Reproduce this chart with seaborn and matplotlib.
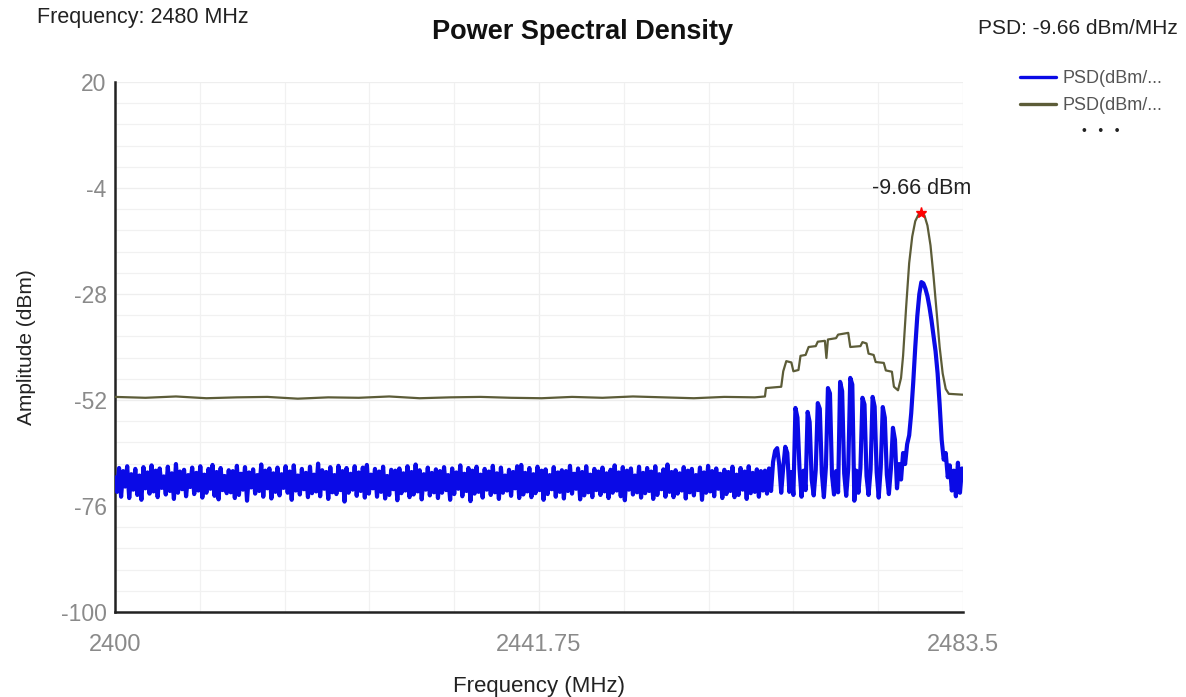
import numpy as np
import pandas as pd
import matplotlib
matplotlib.use("Agg")
import matplotlib.pyplot as plt
import seaborn as sns

# ---------------- data ----------------
blue_start_mhz = 2400.0
blue_step_mhz = 0.2
blue_db = [
    -69.5,-72.8,-67.4,-73.9,-68.1,-71.6,-67.0,-74.2,-68.8,-72.3,-67.6,-73.5,-69.1,-74.6,-67.2,-72.0,-68.4,-73.2,-66.8,-72.7,
    -68.0,-74.0,-67.5,-71.9,-69.3,-73.4,-67.1,-72.6,-68.6,-74.4,-66.5,-73.0,-68.2,-72.2,-67.8,-73.8,-69.0,-71.7,-67.3,-73.3,
    -68.5,-72.5,-67.0,-74.1,-68.9,-73.0,-67.6,-72.1,-66.7,-73.7,-68.3,-74.5,-67.4,-72.4,-69.2,-73.1,-67.9,-72.9,-68.1,-74.2,
    -66.9,-73.5,-68.7,-72.3,-67.2,-74.8,-68.4,-71.8,-67.7,-73.2,-69.0,-72.6,-66.6,-73.9,-68.0,-72.0,-67.5,-74.3,-68.6,-72.8,
    -67.3,-73.6,-68.8,-71.9,-67.0,-73.0,-68.2,-74.6,-66.8,-72.5,-69.1,-73.4,-67.6,-72.2,-68.5,-74.0,-67.1,-73.1,-68.9,-72.7,
    -66.4,-73.8,-67.9,-72.1,-68.3,-74.4,-67.2,-72.9,-69.0,-73.3,-66.9,-72.4,-68.1,-75.0,-67.4,-73.0,-68.7,-72.3,-67.0,-73.7,
    -68.4,-72.6,-67.3,-74.1,-66.7,-73.2,-68.9,-72.0,-67.6,-73.9,-68.2,-72.8,-67.1,-74.3,-69.2,-73.5,-67.8,-72.2,-68.0,-74.7,
    -67.5,-73.1,-68.6,-72.5,-67.0,-74.0,-68.3,-73.4,-66.6,-72.7,-67.9,-74.5,-68.8,-72.3,-67.3,-73.6,-68.5,-72.9,-67.7,-74.2,
    -68.1,-73.0,-67.2,-72.4,-69.0,-74.6,-67.5,-73.3,-68.4,-72.1,-66.8,-73.8,-68.7,-72.6,-67.4,-74.9,-68.0,-73.2,-67.1,-72.8,
    -68.9,-74.1,-67.6,-72.3,-68.2,-73.5,-66.9,-72.9,-68.6,-74.4,-67.3,-73.0,-69.1,-72.5,-67.8,-73.7,-68.3,-72.0,-67.0,-74.2,
    -66.7,-73.4,-68.5,-72.7,-67.4,-74.0,-68.8,-73.1,-67.1,-72.4,-68.0,-74.6,-67.7,-73.3,-69.0,-72.2,-67.2,-73.9,-68.4,-72.8,
    -67.9,-74.3,-68.1,-72.6,-66.9,-73.2,-68.7,-72.1,-67.5,-74.5,-68.3,-73.6,-67.0,-72.9,-68.9,-74.0,-67.6,-72.4,-68.2,-73.5,
    -67.3,-72.7,-68.6,-74.2,-67.8,-73.0,-66.8,-72.5,-68.4,-73.8,-67.2,-74.7,-68.0,-72.3,-67.5,-73.4,-69.1,-72.9,-67.1,-74.1,
    -68.5,-73.1,-67.4,-72.6,-68.2,-74.4,-67.0,-73.5,-68.8,-72.2,-67.7,-73.9,-66.6,-72.8,-68.3,-74.0,-67.9,-73.2,-68.6,-72.5,
    -67.2,-74.3,-68.0,-72.9,-67.6,-73.6,-69.0,-72.4,-67.3,-74.6,-68.4,-73.0,-66.9,-72.7,-68.1,-73.8,-67.5,-72.1,-68.7,-74.2,
    -67.8,-73.3,-68.3,-72.6,-67.1,-74.0,-68.9,-73.5,-67.4,-72.3,-68.2,-74.4,-67.0,-73.1,-68.5,-72.8,-67.7,-73.9,-68.1,-72.5,
    # 2464 MHz onward: burst of spikes and main carrier
    -68.0,-73.2,-67.5,-72.6,-66.0,-63.5,-62.9,-66.5,-73.0,-67.2,
    -62.6,-64.0,-72.8,-68.3,-73.5,-53.8,-56.0,-67.5,-73.9,-68.0,
    -72.4,-54.7,-57.0,-70.0,-73.6,-67.8,-52.7,-54.0,-68.5,-74.0,
    -67.2,-49.3,-50.5,-69.0,-73.4,-68.1,-72.9,-47.9,-50.0,-68.6,
    -73.7,-67.5,-47.0,-48.5,-74.8,-68.0,-73.0,-67.4,-51.5,-53.0,
    -69.2,-73.5,-67.8,-51.3,-53.5,-68.4,-74.1,-67.3,-53.6,-56.0,
    -68.9,-73.3,-67.6,-58.3,-61.0,-72.0,-66.5,-70.0,-64.0,-66.5,
    -62.0,-60.0,-55.0,-48.0,-40.0,-33.0,-28.0,-25.3,-25.6,-26.8,
    -28.5,-31.0,-34.0,-37.5,-41.0,-46.0,-53.0,-61.0,-65.5,-64.0,
    -69.5,-66.8,-72.5,-68.0,-73.8,-66.2,-73.0,-67.5,
]

olive_mhz = [2400, 2403, 2406, 2409, 2412, 2415, 2418, 2421, 2424, 2427, 2430, 2433,
             2436, 2439, 2442, 2445, 2448, 2451, 2454, 2457, 2460, 2463,
             2464.0, 2464.1, 2465.6, 2465.8, 2466.1, 2466.6, 2466.8, 2467.3, 2467.5,
             2468.0, 2468.3, 2469.0, 2469.2, 2469.9, 2470.05, 2470.2, 2471.0, 2471.2,
             2472.2, 2472.4, 2473.4, 2473.6, 2474.0, 2474.2, 2474.7, 2474.9, 2475.7,
             2475.9, 2476.5, 2476.7, 2477.1, 2477.4, 2477.6, 2477.9, 2478.2, 2478.5,
             2478.8, 2479.1, 2479.4, 2479.7, 2480.0, 2480.3, 2480.6, 2480.9, 2481.2,
             2481.5, 2481.8, 2482.1, 2482.8, 2483.5]
olive_db = [-51.3, -51.5, -51.2, -51.6, -51.4, -51.3, -51.7, -51.4, -51.5, -51.2, -51.6, -51.4,
            -51.3, -51.5, -51.6, -51.3, -51.5, -51.2, -51.4, -51.6, -51.3, -51.4,
            -51.2, -49.3, -49.0, -45.5, -43.2, -43.5, -45.5, -45.2, -42.0,
            -41.8, -40.0, -39.8, -38.8, -38.6, -42.5, -38.3, -38.0, -37.2,
            -36.8, -40.0, -39.8, -38.9, -39.2, -41.5, -41.8, -43.4, -43.6,
            -45.3, -45.6, -49.0, -49.8, -47.0, -42.0, -31.0, -21.0, -15.0,
            -11.5, -10.1, -9.66, -10.2, -12.5, -17.0, -24.0, -32.0, -40.0,
            -46.0, -49.5, -50.6, -50.7, -50.8]

peak_mhz = 2479.4
peak_db = -9.66
y_ticks = [20, -4, -28, -52, -76, -100]
x_ticks = [2400, 2441.75, 2483.5]
x_tick_labels = ["2400", "2441.75", "2483.5"]
legend_labels = ["PSD(dBm/...", "PSD(dBm/..."]

# ---------------- plotting ----------------
sns.set_style("white")
plt.rcParams['font.family'] = ['Liberation Sans', 'DejaVu Sans']
plt.rcParams['axes.unicode_minus'] = False

blue_df = pd.DataFrame({
    "freq": blue_start_mhz + blue_step_mhz * np.arange(len(blue_db)),
    "db": blue_db,
})
olive_df = pd.DataFrame({"freq": olive_mhz, "db": olive_db})

fig = plt.figure(figsize=(11.86, 6.97), dpi=100)
ax = fig.add_axes([115/1186, 1 - 612/697, (963-115)/1186, (612-82)/697])

BLUE = "#0a0ae6"
OLIVE = "#5c5c38"

sns.lineplot(data=olive_df, x="freq", y="db", ax=ax, color=OLIVE, lw=1.6,
             estimator=None, sort=False, zorder=3)
sns.lineplot(data=blue_df, x="freq", y="db", ax=ax, color=BLUE, lw=3.0,
             estimator=None, sort=False, zorder=4)

ax.plot([peak_mhz], [peak_db], marker="*", color="red", markersize=8, zorder=6, ls="none")
ax.annotate(f"{peak_db:.2f} dBm", (peak_mhz, peak_db), xytext=(0, 10),
            textcoords="offset points", ha="center", va="bottom", fontsize=15.5, color="#222222")

ax.set_xlim(2400, 2483.5)
ax.set_ylim(-100, 20)
ax.set_xticks(x_ticks)
ax.set_xticklabels(x_tick_labels)
ax.set_yticks(y_ticks)
ax.set_xticks(np.linspace(2400, 2483.5, 11), minor=True)
ax.set_yticks(np.arange(-100, 20.01, 4.8), minor=True)
ax.grid(which="minor", color="#f1f1f1", lw=0.9)
ax.grid(which="major", color="#eeeeee", lw=0.9)
ax.set_axisbelow(True)
ax.tick_params(axis="both", which="both", length=0, labelcolor="#8a8a8a")
ax.tick_params(axis="x", labelsize=17, pad=16)
ax.tick_params(axis="y", labelsize=16.5, pad=6)

for s in ["top", "right"]:
    ax.spines[s].set_visible(False)
for s in ["left", "bottom"]:
    ax.spines[s].set_color("#222222")
    ax.spines[s].set_linewidth(1.8)

ax.set_xlabel("Frequency (MHz)", fontsize=16, color="#222222", labelpad=14)
ax.set_ylabel("Amplitude (dBm)", fontsize=15, color="#222222", labelpad=18)

fig.text(583/1186, 1 - 32/697, "Power Spectral Density", ha="center", va="center",
         fontsize=19.5, fontweight="bold", color="#111111")
fig.text(37/1186, 1 - 18/697, "Frequency: 2480 MHz", ha="left", va="center",
         fontsize=15.5, color="#222222")
fig.text(1178/1186, 1 - 28/697, "PSD: -9.66 dBm/MHz", ha="right", va="center",
         fontsize=15, color="#222222")

handles = [plt.Line2D([], [], color=BLUE, lw=2.4), plt.Line2D([], [], color=OLIVE, lw=2.4)]
fig.legend(handles, legend_labels, loc="upper left", bbox_to_anchor=(1020/1186, 1 - 70/697),
           frameon=False, fontsize=13, handlelength=2.0, handletextpad=0.35,
           labelspacing=0.55, borderpad=0, borderaxespad=0, labelcolor="#555555")
fig.text(1101/1186, 1 - 131/697, "•   •   •", ha="center", va="center", fontsize=10, color="#222222")

fig.savefig("out.png", dpi=100)
